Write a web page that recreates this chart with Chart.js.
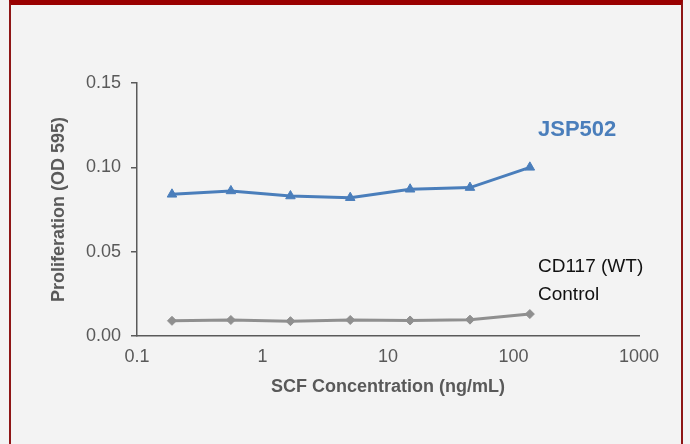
<!DOCTYPE html>
<html><head><meta charset="utf-8">
<script src="https://cdn.jsdelivr.net/npm/chart.js@4"></script>
<style>
html,body{margin:0;padding:0;background:#f3f3f3;}
#frame{position:absolute;left:9px;top:0;width:674px;height:444px;border-left:2px solid #8e1616;border-right:2px solid #8e1616;border-top:5px solid #990000;box-sizing:border-box;}
#c{position:absolute;left:0;top:0;}
</style></head>
<body>
<div id="frame"></div>
<canvas id="c" width="690" height="444"></canvas>
<script>
const concentrations = [0.19, 0.56, 1.67, 5, 15, 45, 135];
const jsp502 = [0.084, 0.086, 0.083, 0.082, 0.087, 0.088, 0.100];
const control = [0.009, 0.0095, 0.0088, 0.0095, 0.0092, 0.0097, 0.013];
const xTicks = [0.1, 1, 10, 100, 1000];
const yTicks = [0, 0.05, 0.10, 0.15];
const seriesLabels = ['JSP502', 'CD117 (WT) Control'];

const axisColor = '#5a5a5a';
const tickColor = '#595959';
const blue = '#4a7ebb';
const gray = '#8f8f8f';
const FONT = '"Liberation Sans", Arial, Helvetica, sans-serif';

const pts = arr => arr.map((v, i) => ({x: concentrations[i], y: v}));

const labelPlugin = {
  id: 'labels',
  afterDraw(chart) {
    const ctx = chart.ctx;
    ctx.save();
    ctx.textBaseline = 'middle';
    ctx.textAlign = 'left';
    ctx.fillStyle = blue;
    ctx.font = 'bold 22px ' + FONT;
    ctx.fillText('JSP502', 538, 130);
    ctx.fillStyle = '#111111';
    ctx.font = '19px ' + FONT;
    ctx.fillText('CD117 (WT)', 538, 267);
    ctx.fillText('Control', 538, 295);
    ctx.restore();
  }
};

Chart.defaults.font.family = FONT;

new Chart(document.getElementById('c'), {
  type: 'line',
  data: {
    datasets: [
      {
        label: seriesLabels[0],
        data: pts(jsp502),
        borderColor: blue,
        backgroundColor: blue,
        borderWidth: 3,
        pointStyle: 'triangle',
        pointRadius: 5.5,
        pointBorderWidth: 1,
        tension: 0
      },
      {
        label: seriesLabels[1],
        data: pts(control),
        borderColor: gray,
        backgroundColor: gray,
        borderWidth: 3,
        pointStyle: 'rectRot',
        pointRadius: 4.5,
        pointBorderWidth: 1,
        tension: 0
      }
    ]
  },
  options: {
    responsive: false,
    animation: false,
    devicePixelRatio: 1,
    layout: {padding: {left: 0, top: 83, right: 51, bottom: 0}},
    plugins: {legend: {display: false}, tooltip: {enabled: false}},
    scales: {
      x: {
        type: 'logarithmic',
        min: 0.1,
        max: 1000,
        afterBuildTicks: s => { s.ticks = xTicks.map(v => ({value: v})); },
        afterFit: s => { s.height = 108; },
        ticks: {
          color: tickColor,
          font: {size: 18},
          padding: 10,
          autoSkip: false,
          maxRotation: 0,
          callback: v => String(v)
        },
        grid: {drawOnChartArea: false, drawTicks: false},
        border: {display: true, color: axisColor, width: 1.5},
        title: {
          display: true,
          text: 'SCF Concentration (ng/mL)',
          color: tickColor,
          font: {size: 18, weight: 'bold'},
          padding: {top: 0, bottom: 46}
        }
      },
      y: {
        type: 'linear',
        min: 0,
        max: 0.15,
        afterBuildTicks: s => { s.ticks = yTicks.map(v => ({value: v})); },
        afterFit: s => { s.width = 137; },
        ticks: {
          color: tickColor,
          font: {size: 18},
          padding: 10,
          callback: v => v.toFixed(2)
        },
        grid: {drawOnChartArea: false, drawTicks: true, tickLength: 6, color: axisColor, lineWidth: 1.5},
        border: {display: true, color: axisColor, width: 1.5},
        title: {
          display: true,
          text: 'Proliferation (OD 595)',
          color: tickColor,
          font: {size: 18, weight: 'bold'},
          padding: {top: 48, bottom: 0}
        }
      }
    }
  },
  plugins: [labelPlugin]
});
</script>
</body></html>
